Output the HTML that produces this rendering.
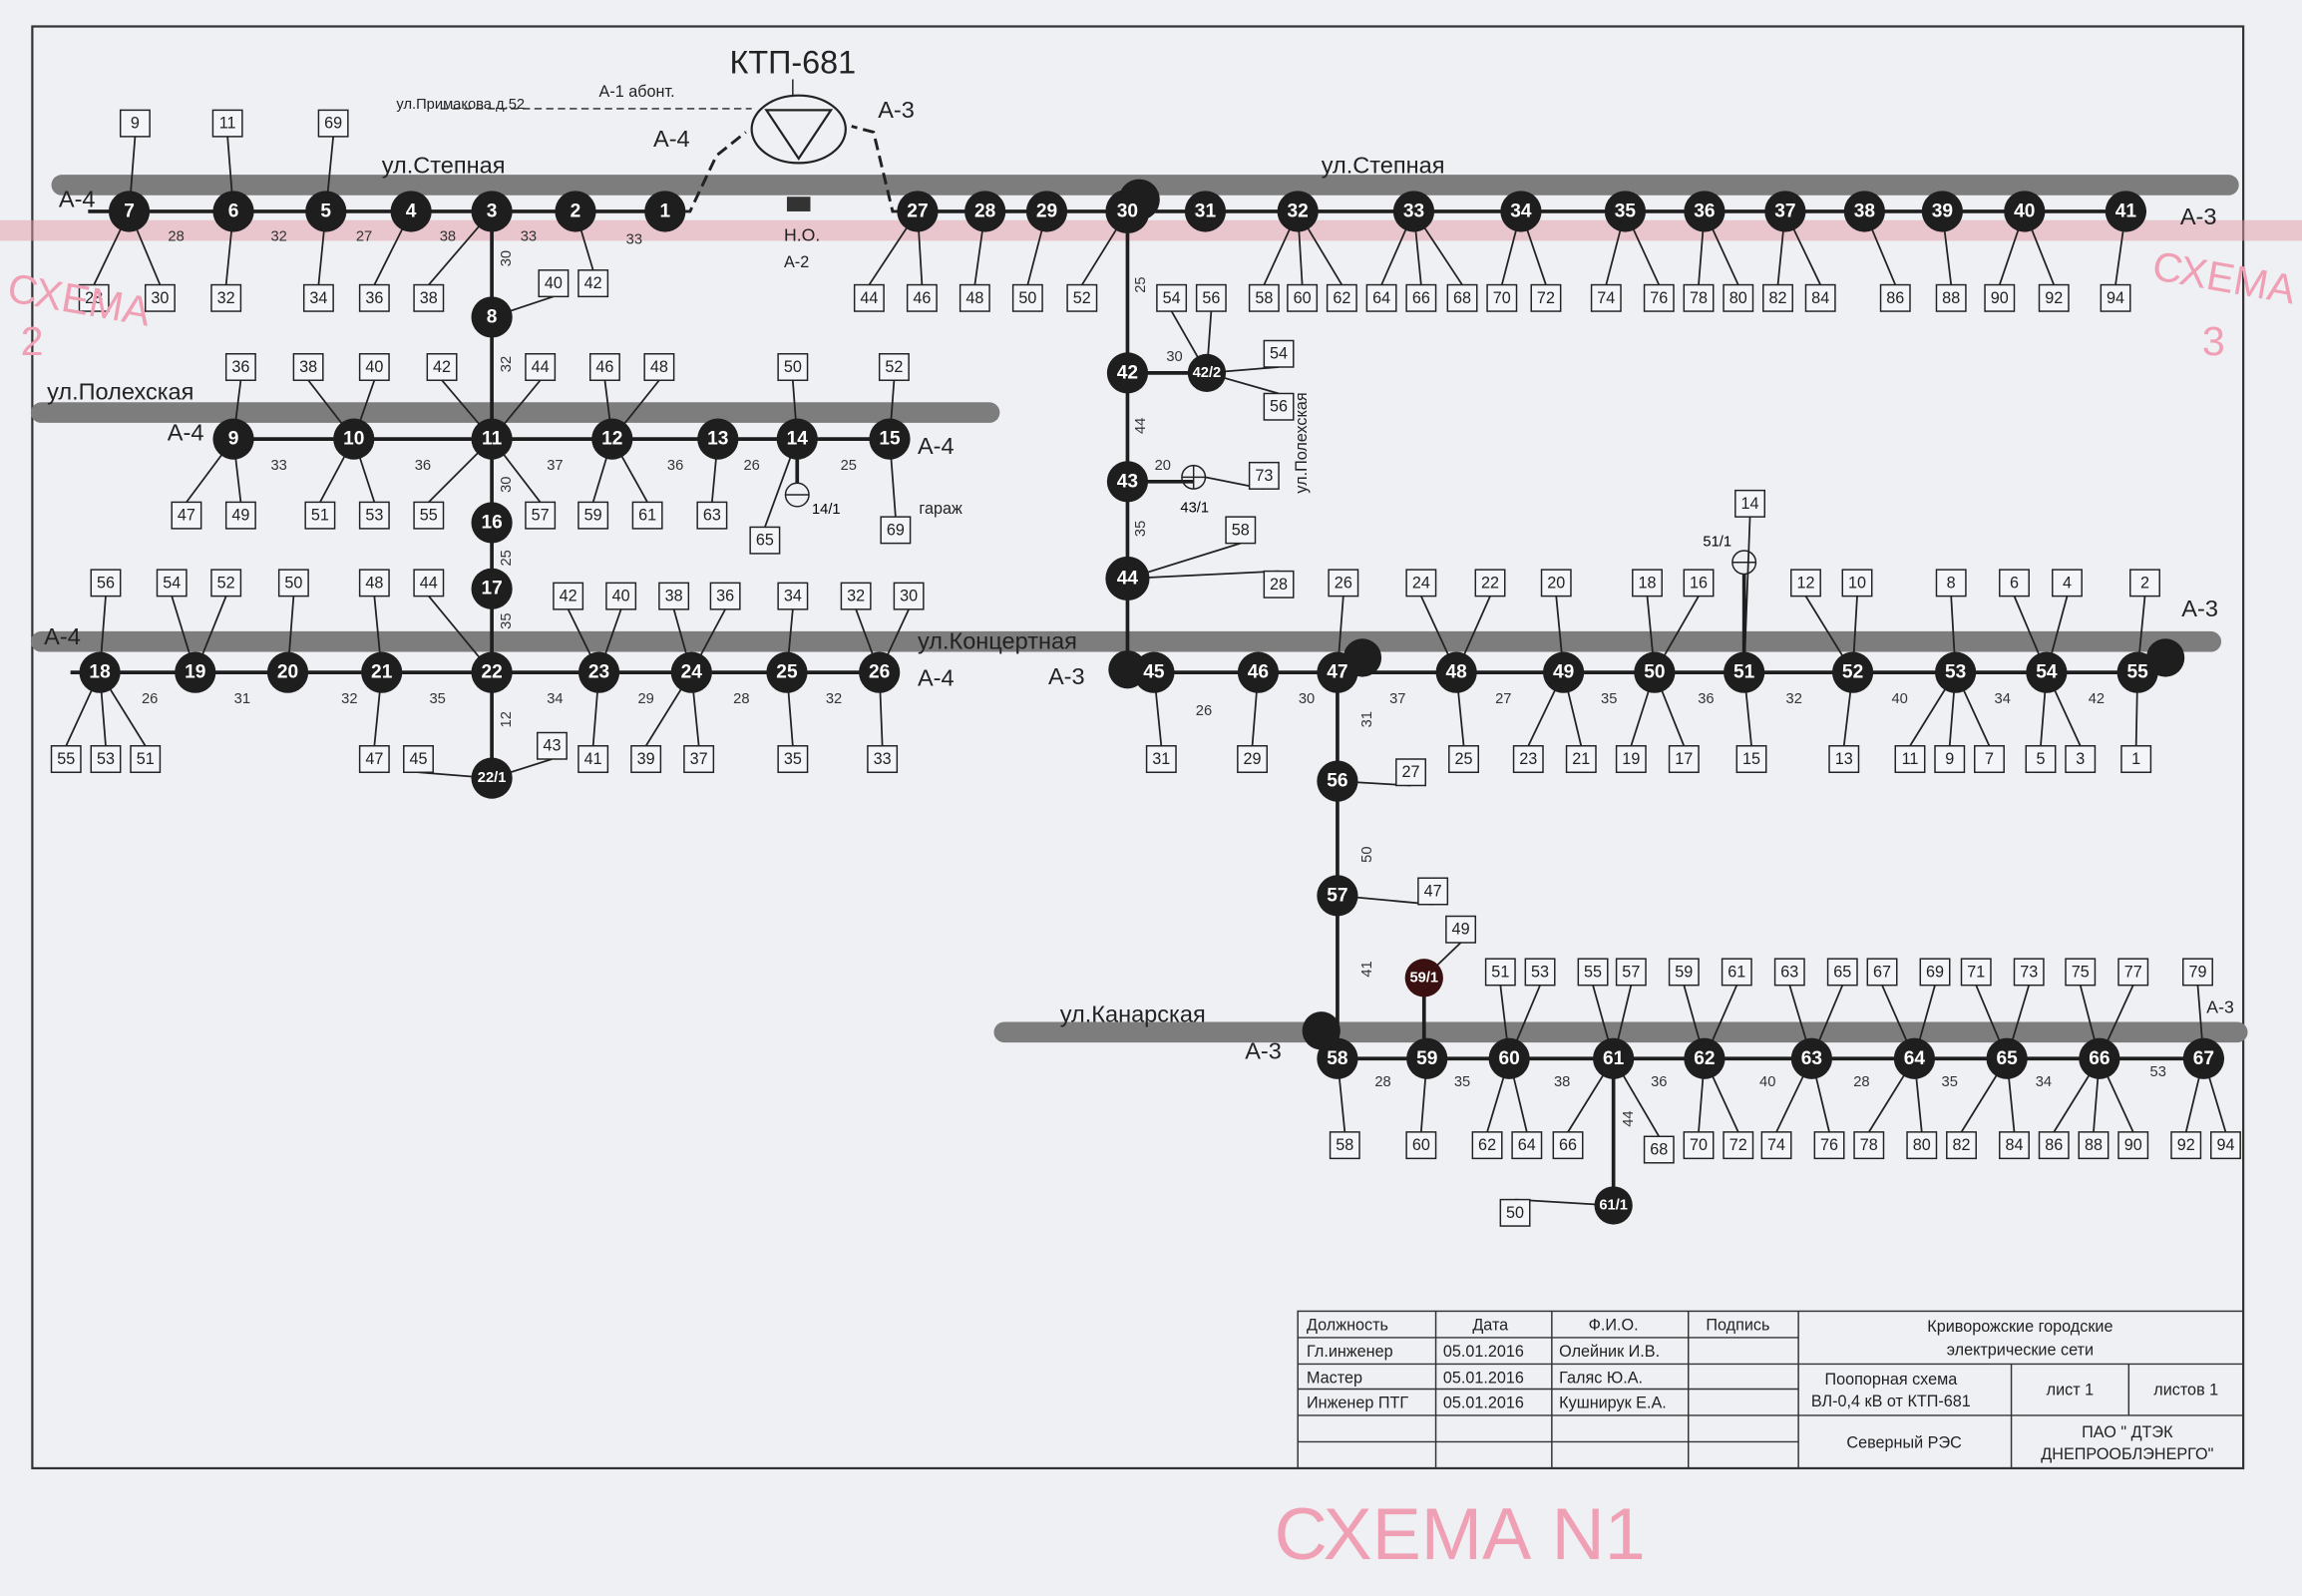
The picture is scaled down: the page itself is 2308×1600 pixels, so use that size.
<!DOCTYPE html>
<html><head><meta charset="utf-8"><style>
html,body{margin:0;padding:0;background:#eef0f4;}
svg{display:block;font-family:"Liberation Sans","DejaVu Sans",sans-serif;}
.n circle{fill:#1e1e1e;}
.n text{fill:#fff;font-size:13px;font-weight:bold;text-anchor:middle;dominant-baseline:central;}
.bx{font-size:11px;text-anchor:middle;dominant-baseline:central;fill:#222;}
.st{fill:none;stroke:#7d7d7d;stroke-width:14;stroke-linecap:round;}
.w{stroke:#1e1e1e;stroke-width:2.5;fill:none;}
.lb{font-size:16px;fill:#222;}
.sp{font-size:10px;fill:#333;text-anchor:middle;}
.tb{font-size:11px;fill:#222;}
</style></head><body>
<svg id="s" width="2308" height="1600" viewBox="0 0 1568 1087" preserveAspectRatio="none">
<rect x="0" y="0" width="1568" height="1087" fill="#eef0f4"/>
<rect x="22" y="18" width="1506" height="982" fill="none" stroke="#333" stroke-width="1.5"/>
<line class="st" x1="42" y1="126" x2="1518" y2="126"/>
<line class="st" x1="28" y1="281" x2="674" y2="281"/>
<line class="st" x1="28" y1="437" x2="1506" y2="437"/>
<line class="st" x1="684" y1="703" x2="1524" y2="703"/>
<rect x="0" y="150" width="1568" height="14" fill="#e39aa8" opacity="0.5"/>
<g id="L"></g>
<line class="w" x1="60" y1="144" x2="453" y2="144"/>
<line class="w" x1="625" y1="144" x2="1462" y2="144"/>
<line class="w" x1="159" y1="299" x2="606" y2="299"/>
<line class="w" x1="48" y1="458" x2="600" y2="458"/>
<line class="w" x1="768" y1="458" x2="1470" y2="458"/>
<line class="w" x1="911" y1="721" x2="1515" y2="721"/>
<line class="w" x1="335" y1="144" x2="335" y2="530"/>
<line class="w" x1="768" y1="144" x2="768" y2="458"/>
<line class="w" x1="911" y1="458" x2="911" y2="721"/>
<line class="w" x1="970" y1="666" x2="970" y2="721"/>
<line class="w" x1="1099" y1="721" x2="1099" y2="821"/>
<line class="w" x1="768" y1="254" x2="822" y2="254"/>
<line class="w" x1="768" y1="328" x2="813" y2="328"/>
<text x="540" y="50" font-size="22" text-anchor="middle" fill="#222">КТП-681</text>
<line x1="540" y1="54" x2="540" y2="66" stroke="#222"/>
<ellipse cx="544" cy="88" rx="32" ry="23" fill="none" stroke="#222" stroke-width="1.5"/>
<polygon points="522,75 566,75 544,108" fill="none" stroke="#222" stroke-width="1.5"/>
<path d="M453,144 L470,144 L488,106 L508,90" fill="none" stroke="#222" stroke-width="2" stroke-dasharray="8,4"/>
<path d="M625,144 L608,144 L595,90 L580,86" fill="none" stroke="#222" stroke-width="2" stroke-dasharray="8,4"/>
<line x1="300" y1="74" x2="512" y2="74" stroke="#222" stroke-dasharray="5,3"/>
<text x="270" y="74" font-size="10" fill="#222">ул.Примакова д.52</text>
<text x="408" y="66" font-size="11" fill="#222">А-1 абонт.</text>
<text x="445" y="100" class="lb">А-4</text>
<text x="598" y="80" class="lb">А-3</text>
<rect x="536" y="134" width="16" height="10" fill="#333"/>
<text x="534" y="164" font-size="12" fill="#222">Н.О.</text>
<text x="534" y="182" font-size="11" fill="#222">А-2</text>
<text x="260" y="118" class="lb">ул.Степная</text>
<text x="900" y="118" class="lb">ул.Степная</text>
<text x="32" y="272" class="lb">ул.Полехская</text>
<text x="625" y="442" class="lb">ул.Концертная</text>
<text x="722" y="696" class="lb">ул.Канарская</text>
<text x="40" y="141" class="lb">А-4</text>
<text x="1485" y="153" class="lb">А-3</text>
<text x="114" y="300" class="lb">А-4</text>
<text x="625" y="309" class="lb">А-4</text>
<text x="30" y="439" class="lb">А-4</text>
<text x="625" y="467" class="lb">А-4</text>
<text x="714" y="466" class="lb">А-3</text>
<text x="1486" y="420" class="lb">А-3</text>
<text x="848" y="721" class="lb">А-3</text>
<text x="1503" y="690" font-size="12" fill="#222">А-3</text>
<text x="626" y="350" font-size="11" fill="#222">гараж</text>
<text x="890" y="336" font-size="11" fill="#222" transform="rotate(-90 890 336)">ул.Полехская</text>
<g class="sp">
<text x="120" y="164">28</text><text x="190" y="164">32</text><text x="248" y="164">27</text><text x="305" y="164">38</text><text x="360" y="164">33</text><text x="432" y="166">33</text>
<text x="190" y="320">33</text><text x="288" y="320">36</text><text x="378" y="320">37</text><text x="460" y="320">36</text><text x="512" y="320">26</text><text x="578" y="320">25</text>
<text x="102" y="479">26</text><text x="165" y="479">31</text><text x="238" y="479">32</text><text x="298" y="479">35</text><text x="378" y="479">34</text><text x="440" y="479">29</text><text x="505" y="479">28</text><text x="568" y="479">32</text>
<text x="820" y="487">26</text><text x="890" y="479">30</text><text x="952" y="479">37</text><text x="1024" y="479">27</text><text x="1096" y="479">35</text><text x="1162" y="479">36</text><text x="1222" y="479">32</text><text x="1294" y="479">40</text><text x="1364" y="479">34</text><text x="1428" y="479">42</text>
<text x="942" y="740">28</text><text x="996" y="740">35</text><text x="1064" y="740">38</text><text x="1130" y="740">36</text><text x="1204" y="740">40</text><text x="1268" y="740">28</text><text x="1328" y="740">35</text><text x="1392" y="740">34</text><text x="1470" y="733">53</text>
<text x="780" y="194" transform="rotate(-90 780 194)">25</text><text x="780" y="290" transform="rotate(-90 780 290)">44</text><text x="780" y="360" transform="rotate(-90 780 360)">35</text>
<text x="348" y="176" transform="rotate(-90 348 176)">30</text><text x="348" y="248" transform="rotate(-90 348 248)">32</text><text x="348" y="330" transform="rotate(-90 348 330)">30</text><text x="348" y="380" transform="rotate(-90 348 380)">25</text><text x="348" y="423" transform="rotate(-90 348 423)">35</text><text x="348" y="490" transform="rotate(-90 348 490)">12</text>
<text x="934" y="582" transform="rotate(-90 934 582)">50</text><text x="934" y="660" transform="rotate(-90 934 660)">41</text><text x="934" y="490" transform="rotate(-90 934 490)">31</text><text x="1112" y="762" transform="rotate(-90 1112 762)">44</text>
<text x="800" y="246">30</text><text x="792" y="320">20</text>
</g>
<circle cx="813" cy="325" r="8" fill="none" stroke="#222"/><line x1="805" y1="325" x2="821" y2="325" stroke="#222"/><line x1="813" y1="317" x2="813" y2="333" stroke="#222"/>
<circle cx="543" cy="337" r="8" fill="none" stroke="#222"/><line x1="535" y1="337" x2="551" y2="337" stroke="#222"/>
<circle cx="1188" cy="383" r="8" fill="none" stroke="#222"/><line x1="1180" y1="383" x2="1196" y2="383" stroke="#222"/>
<line x1="543" y1="299" x2="543" y2="329" class="w"/><line x1="1188" y1="391" x2="1188" y2="458" class="w"/>
<text x="804" y="349" font-size="10">43/1</text><text x="553" y="350" font-size="10">14/1</text><text x="1160" y="372" font-size="10">51/1</text>
<g id="N">
<g class="n"><circle cx="88" cy="144" r="14"/><text x="88" y="144">7</text></g>
<g class="n"><circle cx="159" cy="144" r="14"/><text x="159" y="144">6</text></g>
<g class="n"><circle cx="222" cy="144" r="14"/><text x="222" y="144">5</text></g>
<g class="n"><circle cx="280" cy="144" r="14"/><text x="280" y="144">4</text></g>
<g class="n"><circle cx="335" cy="144" r="14"/><text x="335" y="144">3</text></g>
<g class="n"><circle cx="392" cy="144" r="14"/><text x="392" y="144">2</text></g>
<g class="n"><circle cx="453" cy="144" r="14"/><text x="453" y="144">1</text></g>
<g class="n"><circle cx="625" cy="144" r="14"/><text x="625" y="144">27</text></g>
<g class="n"><circle cx="671" cy="144" r="14"/><text x="671" y="144">28</text></g>
<g class="n"><circle cx="713" cy="144" r="14"/><text x="713" y="144">29</text></g>
<g class="n"><circle cx="776" cy="136" r="14"/><circle cx="768" cy="144" r="15"/><text x="768" y="144">30</text></g>
<g class="n"><circle cx="821" cy="144" r="14"/><text x="821" y="144">31</text></g>
<g class="n"><circle cx="884" cy="144" r="14"/><text x="884" y="144">32</text></g>
<g class="n"><circle cx="963" cy="144" r="14"/><text x="963" y="144">33</text></g>
<g class="n"><circle cx="1036" cy="144" r="14"/><text x="1036" y="144">34</text></g>
<g class="n"><circle cx="1107" cy="144" r="14"/><text x="1107" y="144">35</text></g>
<g class="n"><circle cx="1161" cy="144" r="14"/><text x="1161" y="144">36</text></g>
<g class="n"><circle cx="1216" cy="144" r="14"/><text x="1216" y="144">37</text></g>
<g class="n"><circle cx="1270" cy="144" r="14"/><text x="1270" y="144">38</text></g>
<g class="n"><circle cx="1323" cy="144" r="14"/><text x="1323" y="144">39</text></g>
<g class="n"><circle cx="1379" cy="144" r="14"/><text x="1379" y="144">40</text></g>
<g class="n"><circle cx="1448" cy="144" r="14"/><text x="1448" y="144">41</text></g>
<g class="n"><circle cx="335" cy="216" r="14"/><text x="335" y="216">8</text></g>
<g class="n"><circle cx="159" cy="299" r="14"/><text x="159" y="299">9</text></g>
<g class="n"><circle cx="241" cy="299" r="14"/><text x="241" y="299">10</text></g>
<g class="n"><circle cx="335" cy="299" r="14"/><text x="335" y="299">11</text></g>
<g class="n"><circle cx="417" cy="299" r="14"/><text x="417" y="299">12</text></g>
<g class="n"><circle cx="489" cy="299" r="14"/><text x="489" y="299">13</text></g>
<g class="n"><circle cx="543" cy="299" r="14"/><text x="543" y="299">14</text></g>
<g class="n"><circle cx="606" cy="299" r="14"/><text x="606" y="299">15</text></g>
<g class="n"><circle cx="335" cy="356" r="14"/><text x="335" y="356">16</text></g>
<g class="n"><circle cx="335" cy="401" r="14"/><text x="335" y="401">17</text></g>
<g class="n"><circle cx="68" cy="458" r="14"/><text x="68" y="458">18</text></g>
<g class="n"><circle cx="133" cy="458" r="14"/><text x="133" y="458">19</text></g>
<g class="n"><circle cx="196" cy="458" r="14"/><text x="196" y="458">20</text></g>
<g class="n"><circle cx="260" cy="458" r="14"/><text x="260" y="458">21</text></g>
<g class="n"><circle cx="335" cy="458" r="14"/><text x="335" y="458">22</text></g>
<g class="n"><circle cx="408" cy="458" r="14"/><text x="408" y="458">23</text></g>
<g class="n"><circle cx="471" cy="458" r="14"/><text x="471" y="458">24</text></g>
<g class="n"><circle cx="536" cy="458" r="14"/><text x="536" y="458">25</text></g>
<g class="n"><circle cx="599" cy="458" r="14"/><text x="599" y="458">26</text></g>
<g class="n"><circle cx="335" cy="530" r="14"/><text x="335" y="530" style="font-size:10px">22/1</text></g>
<g class="n"><circle cx="768" cy="254" r="14"/><text x="768" y="254">42</text></g>
<g class="n"><circle cx="822" cy="254" r="13"/><text x="822" y="254" style="font-size:10px">42/2</text></g>
<g class="n"><circle cx="768" cy="328" r="14"/><text x="768" y="328">43</text></g>
<g class="n"><circle cx="768" cy="394" r="15"/><text x="768" y="394">44</text></g>
<g class="n"><circle cx="768" cy="456" r="13"/><circle cx="786" cy="458" r="14"/><text x="786" y="458">45</text></g>
<g class="n"><circle cx="857" cy="458" r="14"/><text x="857" y="458">46</text></g>
<g class="n"><circle cx="928" cy="448" r="13"/><circle cx="911" cy="458" r="14"/><text x="911" y="458">47</text></g>
<g class="n"><circle cx="992" cy="458" r="14"/><text x="992" y="458">48</text></g>
<g class="n"><circle cx="1065" cy="458" r="14"/><text x="1065" y="458">49</text></g>
<g class="n"><circle cx="1127" cy="458" r="14"/><text x="1127" y="458">50</text></g>
<g class="n"><circle cx="1188" cy="458" r="14"/><text x="1188" y="458">51</text></g>
<g class="n"><circle cx="1262" cy="458" r="14"/><text x="1262" y="458">52</text></g>
<g class="n"><circle cx="1332" cy="458" r="14"/><text x="1332" y="458">53</text></g>
<g class="n"><circle cx="1394" cy="458" r="14"/><text x="1394" y="458">54</text></g>
<g class="n"><circle cx="1475" cy="448" r="13"/><circle cx="1456" cy="458" r="14"/><text x="1456" y="458">55</text></g>
<g class="n"><circle cx="911" cy="532" r="14"/><text x="911" y="532">56</text></g>
<g class="n"><circle cx="911" cy="610" r="14"/><text x="911" y="610">57</text></g>
<g class="n"><circle cx="900" cy="702" r="13"/><circle cx="911" cy="721" r="14"/><text x="911" y="721">58</text></g>
<g class="n"><circle cx="970" cy="666" r="13" style="fill:#3a1010"/><text x="970" y="666" style="font-size:10px">59/1</text></g>
<g class="n"><circle cx="972" cy="721" r="14"/><text x="972" y="721">59</text></g>
<g class="n"><circle cx="1028" cy="721" r="14"/><text x="1028" y="721">60</text></g>
<g class="n"><circle cx="1099" cy="721" r="14"/><text x="1099" y="721">61</text></g>
<g class="n"><circle cx="1161" cy="721" r="14"/><text x="1161" y="721">62</text></g>
<g class="n"><circle cx="1234" cy="721" r="14"/><text x="1234" y="721">63</text></g>
<g class="n"><circle cx="1304" cy="721" r="14"/><text x="1304" y="721">64</text></g>
<g class="n"><circle cx="1367" cy="721" r="14"/><text x="1367" y="721">65</text></g>
<g class="n"><circle cx="1430" cy="721" r="14"/><text x="1430" y="721">66</text></g>
<g class="n"><circle cx="1501" cy="721" r="14"/><text x="1501" y="721">67</text></g>
<g class="n"><circle cx="1099" cy="821" r="13"/><text x="1099" y="821" style="font-size:10px">61/1</text></g>
</g>
<g id="B">
<text class="bx" x="92" y="84">9</text><text class="bx" x="155" y="84">11</text><text class="bx" x="227" y="84">69</text>
<text class="bx" x="64" y="203">28</text><text class="bx" x="109" y="203">30</text><text class="bx" x="154" y="203">32</text><text class="bx" x="217" y="203">34</text><text class="bx" x="255" y="203">36</text><text class="bx" x="292" y="203" id="o16-335-144">38</text><text class="bx" x="404" y="193">42</text><text class="bx" x="377" y="193" id="o1-335-216">40</text>
<text class="bx" x="592" y="203" id="o2-625-144">44</text><text class="bx" x="628" y="203">46</text><text class="bx" x="664" y="203">48</text><text class="bx" x="700" y="203">50</text><text class="bx" x="737" y="203" id="o17-768-144">52</text><text class="bx" x="798" y="203">54</text><text class="bx" x="825" y="203">56</text><text class="bx" x="861" y="203">58</text><text class="bx" x="887" y="203">60</text><text class="bx" x="914" y="203">62</text><text class="bx" x="941" y="203">64</text><text class="bx" x="968" y="203">66</text><text class="bx" x="996" y="203">68</text><text class="bx" x="1023" y="203">70</text><text class="bx" x="1053" y="203">72</text><text class="bx" x="1094" y="203">74</text><text class="bx" x="1130" y="203">76</text><text class="bx" x="1157" y="203">78</text><text class="bx" x="1184" y="203">80</text><text class="bx" x="1211" y="203">82</text><text class="bx" x="1240" y="203">84</text><text class="bx" x="1291" y="203">86</text><text class="bx" x="1329" y="203">88</text><text class="bx" x="1362" y="203">90</text><text class="bx" x="1399" y="203">92</text><text class="bx" x="1441" y="203">94</text>
<text class="bx" x="164" y="250">36</text><text class="bx" x="210" y="250">38</text><text class="bx" x="255" y="250">40</text><text class="bx" x="301" y="250" id="o3-335-299">42</text><text class="bx" x="368" y="250" id="o4-335-299">44</text><text class="bx" x="412" y="250">46</text><text class="bx" x="449" y="250">48</text><text class="bx" x="540" y="250">50</text><text class="bx" x="609" y="250">52</text>
<text class="bx" x="127" y="351">47</text><text class="bx" x="164" y="351">49</text><text class="bx" x="218" y="351">51</text><text class="bx" x="255" y="351">53</text><text class="bx" x="292" y="351" id="o5-335-299">55</text><text class="bx" x="368" y="351" id="o6-335-299">57</text><text class="bx" x="404" y="351">59</text><text class="bx" x="441" y="351">61</text><text class="bx" x="485" y="351">63</text><text class="bx" x="521" y="368">65</text><text class="bx" x="610" y="361">69</text>
<text class="bx" x="72" y="397">56</text><text class="bx" x="117" y="397">54</text><text class="bx" x="154" y="397">52</text><text class="bx" x="200" y="397">50</text><text class="bx" x="255" y="397">48</text><text class="bx" x="292" y="397" id="o7-335-458">44</text><text class="bx" x="387" y="406" id="o18-408-458">42</text><text class="bx" x="423" y="406">40</text><text class="bx" x="459" y="406">38</text><text class="bx" x="494" y="406">36</text><text class="bx" x="540" y="406">34</text><text class="bx" x="583" y="406">32</text><text class="bx" x="619" y="406">30</text>
<text class="bx" x="915" y="397">26</text><text class="bx" x="968" y="397">24</text><text class="bx" x="1015" y="397">22</text><text class="bx" x="1060" y="397">20</text><text class="bx" x="1122" y="397">18</text><text class="bx" x="1157" y="397">16</text><text class="bx" x="1192" y="343">14</text><text class="bx" x="1230" y="397">12</text><text class="bx" x="1265" y="397">10</text><text class="bx" x="1329" y="397">8</text><text class="bx" x="1372" y="397">6</text><text class="bx" x="1408" y="397">4</text><text class="bx" x="1461" y="397">2</text>
<text class="bx" x="45" y="517">55</text><text class="bx" x="72" y="517">53</text><text class="bx" x="99" y="517">51</text><text class="bx" x="255" y="517">47</text><text class="bx" x="285" y="517" id="o8-335-530">45</text><text class="bx" x="376" y="508">43</text><text class="bx" x="404" y="517">41</text><text class="bx" x="440" y="517">39</text><text class="bx" x="476" y="517">37</text><text class="bx" x="540" y="517">35</text><text class="bx" x="601" y="517">33</text>
<text class="bx" x="791" y="517">31</text><text class="bx" x="853" y="517">29</text><text class="bx" x="997" y="517">25</text><text class="bx" x="1041" y="517">23</text><text class="bx" x="1077" y="517">21</text><text class="bx" x="1111" y="517">19</text><text class="bx" x="1147" y="517">17</text><text class="bx" x="1193" y="517">15</text><text class="bx" x="1256" y="517">13</text><text class="bx" x="1301" y="517">11</text><text class="bx" x="1328" y="517">9</text><text class="bx" x="1355" y="517">7</text><text class="bx" x="1390" y="517">5</text><text class="bx" x="1417" y="517">3</text><text class="bx" x="1455" y="517">1</text>
<text class="bx" x="871" y="241">54</text><text class="bx" x="871" y="277">56</text><text class="bx" x="861" y="324" id="o9-821-325">73</text><text class="bx" x="845" y="361" id="o10-768-394">58</text><text class="bx" x="871" y="398" id="o11-768-394">28</text><text class="bx" x="961" y="526">27</text><text class="bx" x="976" y="607" id="o12-911-610">47</text><text class="bx" x="995" y="633">49</text>
<text class="bx" x="1022" y="662" id="o19-1028-721">51</text><text class="bx" x="1049" y="662">53</text><text class="bx" x="1085" y="662">55</text><text class="bx" x="1111" y="662">57</text><text class="bx" x="1147" y="662">59</text><text class="bx" x="1183" y="662">61</text><text class="bx" x="1219" y="662">63</text><text class="bx" x="1255" y="662">65</text><text class="bx" x="1282" y="662">67</text><text class="bx" x="1318" y="662">69</text><text class="bx" x="1346" y="662">71</text><text class="bx" x="1382" y="662">73</text><text class="bx" x="1417" y="662">75</text><text class="bx" x="1453" y="662">77</text><text class="bx" x="1497" y="662">79</text>
<text class="bx" x="916" y="780">58</text><text class="bx" x="968" y="780">60</text><text class="bx" x="1013" y="780">62</text><text class="bx" x="1040" y="780">64</text><text class="bx" x="1068" y="780" id="o13-1099-721">66</text><text class="bx" x="1130" y="783" id="o14-1099-721">68</text><text class="bx" x="1157" y="780">70</text><text class="bx" x="1184" y="780">72</text><text class="bx" x="1210" y="780">74</text><text class="bx" x="1246" y="780">76</text><text class="bx" x="1273" y="780">78</text><text class="bx" x="1309" y="780">80</text><text class="bx" x="1336" y="780">82</text><text class="bx" x="1372" y="780">84</text><text class="bx" x="1399" y="780">86</text><text class="bx" x="1426" y="780">88</text><text class="bx" x="1453" y="780">90</text><text class="bx" x="1489" y="780">92</text><text class="bx" x="1516" y="780">94</text>
<text class="bx" x="1032" y="826" id="o15-1099-821">50</text>
</g>
<g stroke="#333" stroke-width="1" fill="none">
<rect x="884" y="893" width="644" height="107"/>
<line x1="884" y1="911" x2="1225" y2="911"/><line x1="884" y1="929" x2="1528" y2="929"/><line x1="884" y1="946" x2="1225" y2="946"/><line x1="884" y1="964" x2="1528" y2="964"/><line x1="884" y1="982" x2="1225" y2="982"/>
<line x1="978" y1="893" x2="978" y2="1000"/><line x1="1057" y1="893" x2="1057" y2="1000"/><line x1="1150" y1="893" x2="1150" y2="1000"/><line x1="1225" y1="893" x2="1225" y2="1000"/>
<line x1="1370" y1="929" x2="1370" y2="1000"/><line x1="1450" y1="929" x2="1450" y2="964"/>
</g>
<g class="tb">
<text x="890" y="906">Должность</text><text x="1003" y="906">Дата</text><text x="1082" y="906">Ф.И.О.</text><text x="1162" y="906">Подпись</text>
<text x="890" y="924">Гл.инженер</text><text x="983" y="924">05.01.2016</text><text x="1062" y="924">Олейник И.В.</text>
<text x="890" y="942">Мастер</text><text x="983" y="942">05.01.2016</text><text x="1062" y="942">Галяс Ю.А.</text>
<text x="890" y="959">Инженер ПТГ</text><text x="983" y="959">05.01.2016</text><text x="1062" y="959">Кушнирук Е.А.</text>
<text x="1376" y="907" text-anchor="middle">Криворожские городские</text><text x="1376" y="923" text-anchor="middle">электрические сети</text>
<text x="1288" y="943" text-anchor="middle">Поопорная схема</text><text x="1288" y="958" text-anchor="middle">ВЛ-0,4 кВ от КТП-681</text>
<text x="1410" y="950" text-anchor="middle">лист 1</text><text x="1489" y="950" text-anchor="middle">листов 1</text>
<text x="1297" y="986" text-anchor="middle">Северный РЭС</text>
<text x="1449" y="979" text-anchor="middle">ПАО " ДТЭК</text><text x="1449" y="994" text-anchor="middle">ДНЕПРООБЛЭНЕРГО"</text>
</g>
<text x="868" y="1062" font-size="50" fill="#f0a0b4">СХЕМА N1</text>
<text x="4" y="205" font-size="28" fill="#f0a0b4" transform="rotate(10 4 205)">СХЕМА</text>
<text x="14" y="242" font-size="28" fill="#f0a0b4">2</text>
<text x="1465" y="190" font-size="28" fill="#f0a0b4" transform="rotate(10 1465 190)">СХЕМА</text>
<text x="1500" y="242" font-size="28" fill="#f0a0b4">3</text>
</svg>
<script>
(function(){
var ns="http://www.w3.org/2000/svg";
var nodes=[];
[].slice.call(document.querySelectorAll('#N .n')).forEach(function(g){var cs=g.querySelectorAll('circle');var c=cs[cs.length-1];nodes.push([+c.getAttribute('cx'),+c.getAttribute('cy')]);});
var L=document.getElementById('L');var B=document.getElementById('B');
[].slice.call(B.querySelectorAll('text')).forEach(function(t){
 var x=+t.getAttribute('x'),y=+t.getAttribute('y');
 var r=document.createElementNS(ns,'rect');
 r.setAttribute('x',x-10);r.setAttribute('y',y-9);r.setAttribute('width',20);r.setAttribute('height',18);
 r.setAttribute('fill','#f4f5f8');r.setAttribute('stroke','#222');r.setAttribute('stroke-width','1');
 B.insertBefore(r,t);
 var best=null;
 var id=t.getAttribute('id');
 if(id){var p=id.split('-');best=[+p[1],+p[2]];}
 else{var bd=1e9;nodes.forEach(function(n){var d=Math.abs(n[0]-x)+Math.abs(n[1]-y);if(d<bd){bd=d;best=n;}});}
 var ln=document.createElementNS(ns,'line');
 var ey=best[1]>y?y+9:y-9;
 ln.setAttribute('x1',x);ln.setAttribute('y1',ey);ln.setAttribute('x2',best[0]);ln.setAttribute('y2',best[1]);
 ln.setAttribute('stroke','#222');ln.setAttribute('stroke-width','1.2');L.appendChild(ln);
});
})();
</script>
</body></html>
